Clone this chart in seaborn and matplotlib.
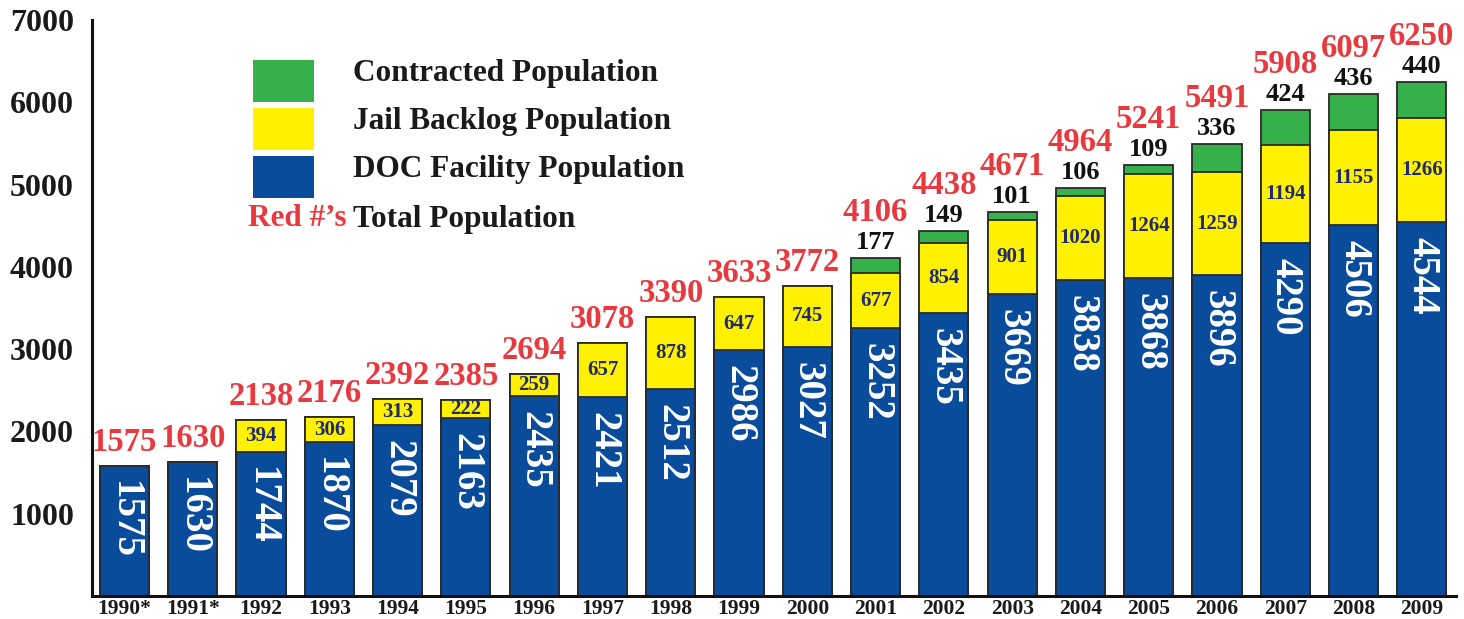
import matplotlib
matplotlib.use("Agg")
import matplotlib.pyplot as plt
from matplotlib.patches import Rectangle
from matplotlib.ticker import FixedLocator
import seaborn as sns

years = ["1990*", "1991*", "1992", "1993", "1994", "1995", "1996", "1997", "1998", "1999",
         "2000", "2001", "2002", "2003", "2004", "2005", "2006", "2007", "2008", "2009"]
doc_facility = [1575, 1630, 1744, 1870, 2079, 2163, 2435, 2421, 2512, 2986,
                3027, 3252, 3435, 3669, 3838, 3868, 3896, 4290, 4506, 4544]
jail_backlog = [0, 0, 394, 306, 313, 222, 259, 657, 878, 647,
                745, 677, 854, 901, 1020, 1264, 1259, 1194, 1155, 1266]
contracted = [0, 0, 0, 0, 0, 0, 0, 0, 0, 0,
              0, 177, 149, 101, 106, 109, 336, 424, 436, 440]
totals = [1575, 1630, 2138, 2176, 2392, 2385, 2694, 3078, 3390, 3633,
          3772, 4106, 4438, 4671, 4964, 5241, 5491, 5908, 6097, 6250]
y_ticks = [1000, 2000, 3000, 4000, 5000, 6000, 7000]

BLUE = "#0a4c9c"
YELLOW = "#fff100"
GREEN = "#35b04a"
RED = "#e8393f"
NAVY = "#1f2a6e"
EDGE = "#2a2a2a"

sns.set_theme(style="white")
plt.rcParams["font.family"] = ["Liberation Serif", "DejaVu Serif"]
plt.rcParams["font.weight"] = "bold"

DPI = 100
fig = plt.figure(figsize=(14.64, 6.19), dpi=DPI)
ax = fig.add_axes([92 / 1464, 23 / 619, 1364 / 1464, 576 / 619])

doc_jail = [d + j for d, j in zip(doc_facility, jail_backlog)]
stack_total = [d + j + c for d, j, c in zip(doc_facility, jail_backlog, contracted)]

bar_kw = dict(order=years, saturation=1, width=0.72, edgecolor=EDGE,
              linewidth=1.3, errorbar=None, ax=ax)
sns.barplot(x=years, y=stack_total, color=GREEN, **bar_kw)
sns.barplot(x=years, y=doc_jail, color=YELLOW, **bar_kw)
sns.barplot(x=years, y=doc_facility, color=BLUE, **bar_kw)

ax.set_xlim(-0.476, 19.5)
ax.set_ylim(0, 7000)
ax.set_xlabel("")
ax.set_ylabel("")

# axes frame: only left and bottom lines
for side in ("top", "right"):
    ax.spines[side].set_visible(False)
for side in ("left", "bottom"):
    ax.spines[side].set_color("#111111")
    ax.spines[side].set_linewidth(2.2)

ax.set_yticks(y_ticks)
ax.set_yticklabels([str(v) for v in y_ticks], fontsize=23, fontweight="bold", color="#1a1a1a")
ax.tick_params(axis="y", direction="in", length=25, width=2, color="#111111", pad=13)

ax.set_xticks(range(len(years)))
ax.set_xticklabels(years, fontsize=15.5, fontweight="bold", color="#1a1a1a")
ax.tick_params(axis="x", which="major", length=0, pad=2)
ax.xaxis.set_minor_locator(FixedLocator([i + 0.5 for i in range(len(years))]))
ax.tick_params(axis="x", which="minor", direction="in", length=9, width=2, color="#111111")

px = 72 / DPI  # one pixel in points

for i in range(len(years)):
    # DOC facility value, rotated, near the top of the blue segment
    ax.annotate(str(doc_facility[i]), (i, doc_facility[i]), xytext=(0, -15 * px),
                textcoords="offset points", rotation=-90, ha="center", va="top",
                fontsize=28, fontweight="bold", color="white")
    # jail backlog value centred in the yellow segment
    if jail_backlog[i] > 0:
        ax.text(i, doc_facility[i] + jail_backlog[i] / 2, str(jail_backlog[i]),
                ha="center", va="center", fontsize=15, fontweight="bold", color=NAVY)
    # contracted value above the bar
    top = stack_total[i]
    if contracted[i] > 0:
        ax.annotate(str(contracted[i]), (i, top), xytext=(0, 4 * px),
                    textcoords="offset points", ha="center", va="bottom",
                    fontsize=19, fontweight="bold", color="#111111")
        red_off = 30 * px
    else:
        red_off = 8 * px
    ax.annotate(str(totals[i]), (i, top), xytext=(0, red_off),
                textcoords="offset points", ha="center", va="bottom",
                fontsize=23.5, fontweight="bold", color=RED, annotation_clip=False)

# key in the upper left
W, H = 1464, 619
key = [(GREEN, 60, "Contracted Population"),
       (YELLOW, 108, "Jail Backlog Population"),
       (BLUE, 156, "DOC Facility Population")]
for color, top_px, label in key:
    fig.add_artist(Rectangle((253 / W, 1 - (top_px + 42) / H), 61 / W, 42 / H,
                             transform=fig.transFigure, facecolor=color, edgecolor="none"))
    fig.text(353 / W, 1 - (top_px + 14) / H, label, ha="left", va="center",
             fontsize=22.5, fontweight="bold", color="#1a1a1a")
fig.text(347 / W, 1 - 219 / H, "Red #\u2019s", ha="right", va="center",
         fontsize=22.5, fontweight="bold", color=RED)
fig.text(353 / W, 1 - 219 / H, "Total Population", ha="left", va="center",
         fontsize=22.5, fontweight="bold", color="#1a1a1a")

fig.savefig("out.png", dpi=DPI, facecolor="white")
